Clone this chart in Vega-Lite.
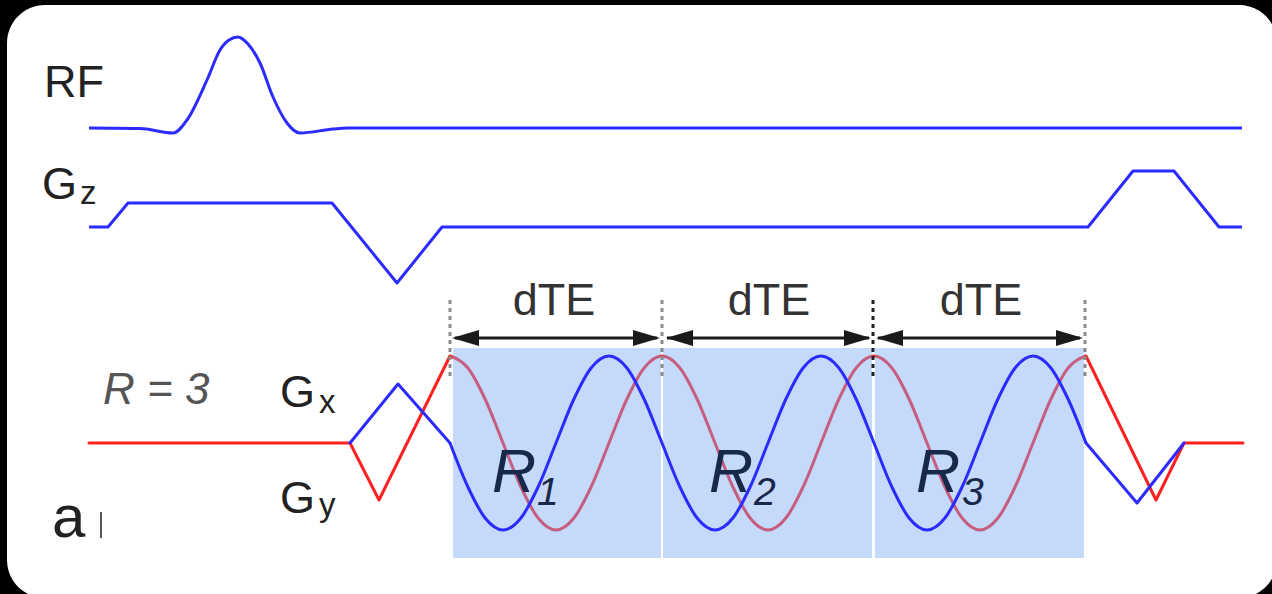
{
  "$schema": "https://vega.github.io/schema/vega-lite/v6.json",
  "width": 1272,
  "height": 594,
  "autosize": {"type": "fit", "contains": "padding"},
  "padding": 0,
  "background": "black",
  "config": {"view": {"stroke": null}},
  "datasets": {
    "bg": [{"x": 7, "x2": 1277, "y": 5, "y2": 598}],
    "waves": [
      {"s": "RF", "seg": "rf", "x": 89, "y": 128},
      {"s": "RF", "seg": "rf", "x": 140, "y": 128.5},
      {"s": "RF", "seg": "rf", "x": 173, "y": 133},
      {"s": "RF", "seg": "rf", "x": 187, "y": 120},
      {"s": "RF", "seg": "rf", "x": 207, "y": 80},
      {"s": "RF", "seg": "rf", "x": 220, "y": 50},
      {"s": "RF", "seg": "rf", "x": 229, "y": 40},
      {"s": "RF", "seg": "rf", "x": 238, "y": 37},
      {"s": "RF", "seg": "rf", "x": 248, "y": 44},
      {"s": "RF", "seg": "rf", "x": 260, "y": 63},
      {"s": "RF", "seg": "rf", "x": 273, "y": 97},
      {"s": "RF", "seg": "rf", "x": 287, "y": 123},
      {"s": "RF", "seg": "rf", "x": 300, "y": 133},
      {"s": "RF", "seg": "rf", "x": 333, "y": 129},
      {"s": "RF", "seg": "rf", "x": 347, "y": 128},
      {"s": "RF", "seg": "rf", "x": 1242, "y": 128},

      {"s": "Gz", "seg": "gz", "x": 89, "y": 227},
      {"s": "Gz", "seg": "gz", "x": 108, "y": 227},
      {"s": "Gz", "seg": "gz", "x": 128, "y": 203},
      {"s": "Gz", "seg": "gz", "x": 332, "y": 203},
      {"s": "Gz", "seg": "gz", "x": 397, "y": 283},
      {"s": "Gz", "seg": "gz", "x": 442, "y": 227},
      {"s": "Gz", "seg": "gz", "x": 1088, "y": 227},
      {"s": "Gz", "seg": "gz", "x": 1133, "y": 171},
      {"s": "Gz", "seg": "gz", "x": 1174, "y": 171},
      {"s": "Gz", "seg": "gz", "x": 1219, "y": 227},
      {"s": "Gz", "seg": "gz", "x": 1242, "y": 227},

      {"s": "Gy", "seg": "gy_pre", "x": 89, "y": 443},
      {"s": "Gy", "seg": "gy_pre", "x": 350, "y": 443},
      {"s": "Gy", "seg": "gy_pre", "x": 379, "y": 500},
      {"s": "Gy", "seg": "gy_pre", "x": 450, "y": 356},
      {"s": "Gy", "seg": "gy_post", "x": 1086, "y": 356},
      {"s": "Gy", "seg": "gy_post", "x": 1156, "y": 500},
      {"s": "Gy", "seg": "gy_post", "x": 1184, "y": 443},
      {"s": "Gy", "seg": "gy_post", "x": 1243, "y": 443},

      {"s": "Gy", "seg": "gy_read", "x": 450, "y": 356},
      {"s": "Gy", "seg": "gy_read", "x": 467.7, "y": 367.7},
      {"s": "Gy", "seg": "gy_read", "x": 485.3, "y": 399.5},
      {"s": "Gy", "seg": "gy_read", "x": 503, "y": 443},
      {"s": "Gy", "seg": "gy_read", "x": 520.7, "y": 486.5},
      {"s": "Gy", "seg": "gy_read", "x": 538.3, "y": 518.3},
      {"s": "Gy", "seg": "gy_read", "x": 556, "y": 530},
      {"s": "Gy", "seg": "gy_read", "x": 573.7, "y": 518.3},
      {"s": "Gy", "seg": "gy_read", "x": 591.3, "y": 486.5},
      {"s": "Gy", "seg": "gy_read", "x": 609, "y": 443},
      {"s": "Gy", "seg": "gy_read", "x": 626.7, "y": 399.5},
      {"s": "Gy", "seg": "gy_read", "x": 644.3, "y": 367.7},
      {"s": "Gy", "seg": "gy_read", "x": 662, "y": 356},
      {"s": "Gy", "seg": "gy_read", "x": 679.7, "y": 367.7},
      {"s": "Gy", "seg": "gy_read", "x": 697.3, "y": 399.5},
      {"s": "Gy", "seg": "gy_read", "x": 715, "y": 443},
      {"s": "Gy", "seg": "gy_read", "x": 732.7, "y": 486.5},
      {"s": "Gy", "seg": "gy_read", "x": 750.3, "y": 518.3},
      {"s": "Gy", "seg": "gy_read", "x": 768, "y": 530},
      {"s": "Gy", "seg": "gy_read", "x": 785.7, "y": 518.3},
      {"s": "Gy", "seg": "gy_read", "x": 803.3, "y": 486.5},
      {"s": "Gy", "seg": "gy_read", "x": 821, "y": 443},
      {"s": "Gy", "seg": "gy_read", "x": 838.7, "y": 399.5},
      {"s": "Gy", "seg": "gy_read", "x": 856.3, "y": 367.7},
      {"s": "Gy", "seg": "gy_read", "x": 874, "y": 356},
      {"s": "Gy", "seg": "gy_read", "x": 891.7, "y": 367.7},
      {"s": "Gy", "seg": "gy_read", "x": 909.3, "y": 399.5},
      {"s": "Gy", "seg": "gy_read", "x": 927, "y": 443},
      {"s": "Gy", "seg": "gy_read", "x": 944.7, "y": 486.5},
      {"s": "Gy", "seg": "gy_read", "x": 962.3, "y": 518.3},
      {"s": "Gy", "seg": "gy_read", "x": 980, "y": 530},
      {"s": "Gy", "seg": "gy_read", "x": 997.7, "y": 518.3},
      {"s": "Gy", "seg": "gy_read", "x": 1015.3, "y": 486.5},
      {"s": "Gy", "seg": "gy_read", "x": 1033, "y": 443},
      {"s": "Gy", "seg": "gy_read", "x": 1050.7, "y": 399.5},
      {"s": "Gy", "seg": "gy_read", "x": 1068.3, "y": 367.7},
      {"s": "Gy", "seg": "gy_read", "x": 1086, "y": 356},

      {"s": "Gx", "seg": "gx_pre", "x": 350, "y": 443},
      {"s": "Gx", "seg": "gx_pre", "x": 398, "y": 384},
      {"s": "Gx", "seg": "gx_pre", "x": 450, "y": 443},
      {"s": "Gx", "seg": "gx_post", "x": 1086, "y": 443},
      {"s": "Gx", "seg": "gx_post", "x": 1137, "y": 503},
      {"s": "Gx", "seg": "gx_post", "x": 1184, "y": 443},

      {"s": "Gx", "seg": "gx_read", "x": 450, "y": 443},
      {"s": "Gx", "seg": "gx_read", "x": 467.7, "y": 486.5},
      {"s": "Gx", "seg": "gx_read", "x": 485.3, "y": 518.3},
      {"s": "Gx", "seg": "gx_read", "x": 503, "y": 530},
      {"s": "Gx", "seg": "gx_read", "x": 520.7, "y": 518.3},
      {"s": "Gx", "seg": "gx_read", "x": 538.3, "y": 486.5},
      {"s": "Gx", "seg": "gx_read", "x": 556, "y": 443},
      {"s": "Gx", "seg": "gx_read", "x": 573.7, "y": 399.5},
      {"s": "Gx", "seg": "gx_read", "x": 591.3, "y": 367.7},
      {"s": "Gx", "seg": "gx_read", "x": 609, "y": 356},
      {"s": "Gx", "seg": "gx_read", "x": 626.7, "y": 367.7},
      {"s": "Gx", "seg": "gx_read", "x": 644.3, "y": 399.5},
      {"s": "Gx", "seg": "gx_read", "x": 662, "y": 443},
      {"s": "Gx", "seg": "gx_read", "x": 679.7, "y": 486.5},
      {"s": "Gx", "seg": "gx_read", "x": 697.3, "y": 518.3},
      {"s": "Gx", "seg": "gx_read", "x": 715, "y": 530},
      {"s": "Gx", "seg": "gx_read", "x": 732.7, "y": 518.3},
      {"s": "Gx", "seg": "gx_read", "x": 750.3, "y": 486.5},
      {"s": "Gx", "seg": "gx_read", "x": 768, "y": 443},
      {"s": "Gx", "seg": "gx_read", "x": 785.7, "y": 399.5},
      {"s": "Gx", "seg": "gx_read", "x": 803.3, "y": 367.7},
      {"s": "Gx", "seg": "gx_read", "x": 821, "y": 356},
      {"s": "Gx", "seg": "gx_read", "x": 838.7, "y": 367.7},
      {"s": "Gx", "seg": "gx_read", "x": 856.3, "y": 399.5},
      {"s": "Gx", "seg": "gx_read", "x": 874, "y": 443},
      {"s": "Gx", "seg": "gx_read", "x": 891.7, "y": 486.5},
      {"s": "Gx", "seg": "gx_read", "x": 909.3, "y": 518.3},
      {"s": "Gx", "seg": "gx_read", "x": 927, "y": 530},
      {"s": "Gx", "seg": "gx_read", "x": 944.7, "y": 518.3},
      {"s": "Gx", "seg": "gx_read", "x": 962.3, "y": 486.5},
      {"s": "Gx", "seg": "gx_read", "x": 980, "y": 443},
      {"s": "Gx", "seg": "gx_read", "x": 997.7, "y": 399.5},
      {"s": "Gx", "seg": "gx_read", "x": 1015.3, "y": 367.7},
      {"s": "Gx", "seg": "gx_read", "x": 1033, "y": 356},
      {"s": "Gx", "seg": "gx_read", "x": 1050.7, "y": 367.7},
      {"s": "Gx", "seg": "gx_read", "x": 1068.3, "y": 399.5},
      {"s": "Gx", "seg": "gx_read", "x": 1086, "y": 443}
    ],
    "shade": [
      {"x": 453, "x2": 661, "y": 348, "y2": 558},
      {"x": 663, "x2": 872, "y": 348, "y2": 558},
      {"x": 875, "x2": 1084, "y": 348, "y2": 558}
    ],
    "dots": [
      {"x": 450, "y": 300, "y2": 380, "tone": "grey"},
      {"x": 662, "y": 300, "y2": 380, "tone": "grey"},
      {"x": 873, "y": 300, "y2": 380, "tone": "dark"},
      {"x": 1085, "y": 300, "y2": 380, "tone": "grey"}
    ],
    "spans": [
      {"x": 455, "x2": 657, "y": 338},
      {"x": 667, "x2": 869, "y": 338},
      {"x": 878, "x2": 1080, "y": 338}
    ],
    "heads": [
      {"x": 452, "y": 338, "dir": "L"},
      {"x": 660, "y": 338, "dir": "R"},
      {"x": 666, "y": 338, "dir": "L"},
      {"x": 871, "y": 338, "dir": "R"},
      {"x": 876, "y": 338, "dir": "L"},
      {"x": 1083, "y": 338, "dir": "R"}
    ],
    "paren": [{"x": 101, "y": 512, "y2": 538}],
    "labels": [
      {"role": "lab", "t": "RF", "x": 44, "y": 97},
      {"role": "lab", "t": "G", "x": 42, "y": 199},
      {"role": "sub", "t": "z", "x": 80, "y": 204},
      {"role": "lab", "t": "G", "x": 280, "y": 407},
      {"role": "sub", "t": "x", "x": 319, "y": 413},
      {"role": "lab", "t": "G", "x": 280, "y": 513},
      {"role": "sub", "t": "y", "x": 319, "y": 516},
      {"role": "dte", "t": "dTE", "x": 554, "y": 315},
      {"role": "dte", "t": "dTE", "x": 769, "y": 315},
      {"role": "dte", "t": "dTE", "x": 981, "y": 315},
      {"role": "rr", "t": "R = 3", "x": 103, "y": 404},
      {"role": "a", "t": "a", "x": 52, "y": 537},
      {"role": "Rb", "t": "R", "x": 492, "y": 492},
      {"role": "Rb", "t": "R", "x": 709, "y": 492},
      {"role": "Rb", "t": "R", "x": 916, "y": 492},
      {"role": "Rs", "t": "1", "x": 537, "y": 505},
      {"role": "Rs", "t": "2", "x": 754, "y": 505},
      {"role": "Rs", "t": "3", "x": 962, "y": 505}
    ]
  },
  "encoding": {
    "x": {"field": "x", "type": "quantitative", "scale": {"domain": [0, 1272], "nice": false, "zero": false}, "axis": null},
    "y": {"field": "y", "type": "quantitative", "scale": {"domain": [0, 594], "reverse": true, "nice": false, "zero": false}, "axis": null}
  },
  "layer": [
    {
      "data": {"name": "bg"},
      "mark": {"type": "rect", "fill": "white", "cornerRadius": 38, "clip": true},
      "encoding": {"x2": {"field": "x2"}, "y2": {"field": "y2"}}
    },
    {
      "data": {"name": "waves"},
      "transform": [{"filter": "datum.s == 'RF'"}],
      "mark": {"type": "line", "interpolate": "monotone", "color": "#2b2bff", "strokeWidth": 3},
      "encoding": {"detail": {"field": "seg"}}
    },
    {
      "data": {"name": "waves"},
      "transform": [{"filter": "datum.s == 'Gz'"}],
      "mark": {"type": "line", "interpolate": "linear", "color": "#2b2bff", "strokeWidth": 3, "strokeJoin": "round"},
      "encoding": {"detail": {"field": "seg"}}
    },
    {
      "data": {"name": "waves"},
      "transform": [{"filter": "datum.seg == 'gy_pre' || datum.seg == 'gy_post'"}],
      "mark": {"type": "line", "interpolate": "linear", "color": "#ff2020", "strokeWidth": 3, "strokeJoin": "round", "strokeCap": "round"},
      "encoding": {"detail": {"field": "seg"}}
    },
    {
      "data": {"name": "waves"},
      "transform": [{"filter": "datum.seg == 'gy_read'"}],
      "mark": {"type": "line", "interpolate": "monotone", "color": "#ff2020", "strokeWidth": 3},
      "encoding": {"detail": {"field": "seg"}}
    },
    {
      "data": {"name": "shade"},
      "mark": {"type": "rect", "fill": "#7eabf4", "opacity": 0.45},
      "encoding": {"x2": {"field": "x2"}, "y2": {"field": "y2"}}
    },
    {
      "data": {"name": "waves"},
      "transform": [{"filter": "datum.seg == 'gx_pre' || datum.seg == 'gx_post'"}],
      "mark": {"type": "line", "interpolate": "linear", "color": "#2b2bff", "strokeWidth": 3, "strokeJoin": "round", "strokeCap": "round"},
      "encoding": {"detail": {"field": "seg"}}
    },
    {
      "data": {"name": "waves"},
      "transform": [{"filter": "datum.seg == 'gx_read'"}],
      "mark": {"type": "line", "interpolate": "monotone", "color": "#2b2bff", "strokeWidth": 3},
      "encoding": {"detail": {"field": "seg"}}
    },
    {
      "data": {"name": "dots"},
      "mark": {"type": "rule", "strokeWidth": 3, "strokeDash": [4, 4]},
      "encoding": {
        "y2": {"field": "y2"},
        "color": {"field": "tone", "type": "nominal", "scale": {"domain": ["grey", "dark"], "range": ["#8a8a8a", "#222222"]}, "legend": null}
      }
    },
    {
      "data": {"name": "spans"},
      "mark": {"type": "rule", "strokeWidth": 3, "color": "#1a1a1a"},
      "encoding": {"x2": {"field": "x2"}}
    },
    {
      "data": {"name": "heads"},
      "mark": {"type": "point", "filled": true, "size": 729, "opacity": 1, "color": "#1a1a1a"},
      "encoding": {
        "shape": {"field": "dir", "type": "nominal", "scale": {"domain": ["L", "R"], "range": ["M 0 0 L 2 -0.6 L 2 0.6 Z", "M 0 0 L -2 -0.6 L -2 0.6 Z"]}, "legend": null}
      }
    },
    {
      "data": {"name": "paren"},
      "mark": {"type": "rule", "strokeWidth": 2, "color": "#555555"},
      "encoding": {"y2": {"field": "y2"}}
    },
    {
      "data": {"name": "labels"},
      "transform": [{"filter": "datum.role == 'lab'"}],
      "mark": {"type": "text", "font": "Liberation Sans", "fontSize": 45, "color": "#222222", "align": "left", "baseline": "alphabetic"},
      "encoding": {"text": {"field": "t"}}
    },
    {
      "data": {"name": "labels"},
      "transform": [{"filter": "datum.role == 'sub'"}],
      "mark": {"type": "text", "font": "Liberation Sans", "fontSize": 33, "color": "#222222", "align": "left", "baseline": "alphabetic"},
      "encoding": {"text": {"field": "t"}}
    },
    {
      "data": {"name": "labels"},
      "transform": [{"filter": "datum.role == 'dte'"}],
      "mark": {"type": "text", "font": "Liberation Sans", "fontSize": 45, "color": "#333333", "align": "center", "baseline": "alphabetic"},
      "encoding": {"text": {"field": "t"}}
    },
    {
      "data": {"name": "labels"},
      "transform": [{"filter": "datum.role == 'rr'"}],
      "mark": {"type": "text", "font": "Liberation Sans", "fontSize": 44, "fontStyle": "italic", "color": "#555555", "align": "left", "baseline": "alphabetic"},
      "encoding": {"text": {"field": "t"}}
    },
    {
      "data": {"name": "labels"},
      "transform": [{"filter": "datum.role == 'a'"}],
      "mark": {"type": "text", "font": "Liberation Sans", "fontSize": 60, "color": "#222222", "align": "left", "baseline": "alphabetic"},
      "encoding": {"text": {"field": "t"}}
    },
    {
      "data": {"name": "labels"},
      "transform": [{"filter": "datum.role == 'Rb'"}],
      "mark": {"type": "text", "font": "Liberation Sans", "fontSize": 61, "fontStyle": "italic", "color": "#17284a", "align": "left", "baseline": "alphabetic"},
      "encoding": {"text": {"field": "t"}}
    },
    {
      "data": {"name": "labels"},
      "transform": [{"filter": "datum.role == 'Rs'"}],
      "mark": {"type": "text", "font": "Liberation Sans", "fontSize": 39, "fontStyle": "italic", "color": "#17284a", "align": "left", "baseline": "alphabetic"},
      "encoding": {"text": {"field": "t"}}
    }
  ]
}
